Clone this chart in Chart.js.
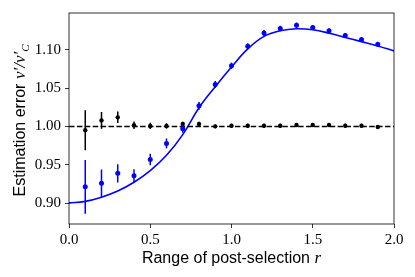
<!DOCTYPE html>
<html><head><meta charset="utf-8">
<script src="https://cdn.jsdelivr.net/npm/chart.js@4"></script>
<style>html,body{margin:0;padding:0;background:#fff}</style>
</head><body>
<canvas id="c" width="415" height="277"></canvas>
<script>
// ---- data ----
const rValues   = [0.1,0.2,0.3,0.4,0.5,0.6,0.7,0.8,0.9,1.0,1.1,1.2,1.3,1.4,1.5,1.6,1.7,1.8,1.9];
const blueMean  = [0.9215,0.926,0.939,0.936,0.957,0.978,0.997,1.027,1.0548,1.0793,1.1046,1.1218,1.1278,1.1320,1.1290,1.1248,1.1188,1.1133,1.1072];
const blueErr   = [0.035,0.018,0.012,0.0085,0.0075,0.0065,0.005,0.005,0.0045,0.004,0.004,0.004,0.0035,0.0035,0.003,0.003,0.003,0.003,0.003];
const blackMean = [0.9952,1.008,1.012,1.0017,1.0008,1.0008,1.0033,1.0033,1.0003,1.001,1.001,1.001,1.001,1.002,1.002,1.002,1.001,1.001,0.9995];
const blackErr  = [0.026,0.011,0.0075,0.005,0.004,0.0035,0.003,0.003,0.0025,0.0025,0.0025,0.0025,0.0025,0.0025,0.0025,0.0025,0.0025,0.0025,0.0025];
const curveR    = [0,0.1,0.2,0.3,0.4,0.5,0.6,0.7,0.8,0.9,1.0,1.1,1.2,1.3,1.4,1.5,1.6,1.7,1.8,1.9,2.0];
const curveV    = [0.9005,0.9025,0.908,0.916,0.9274,0.9425,0.9625,0.9895,1.0245,1.052,1.0776,1.1012,1.1175,1.1248,1.1274,1.1261,1.1218,1.1162,1.1107,1.105,1.0986];
const refR      = [0,2];
const refV      = [1,1];
const xTicks    = [0,0.5,1.0,1.5,2.0];
const yTicks    = [0.90,0.95,1.00,1.05,1.10];
const xLabelParts = ['Range of post-selection ','r'];
const yLabelParts = ['Estimation error ','v\u2032/v\u2032','C'];

const pts = (xs, ys) => xs.map((x,i)=>({x:x,y:ys[i]}));

const errorBars = {
  id:'errorBars',
  beforeDatasetDraw(chart,args){
    const ds = chart.data.datasets[args.index];
    if(!ds.errors) return;
    const ys = chart.scales.y, ctx = chart.ctx;
    ctx.save();
    ctx.strokeStyle = ds.borderColor; ctx.lineWidth = 1.5;
    args.meta.data.forEach((p,i)=>{
      const d = ds.data[i], e = ds.errors[i];
      ctx.beginPath();
      ctx.moveTo(p.x, ys.getPixelForValue(d.y-e));
      ctx.lineTo(p.x, ys.getPixelForValue(d.y+e));
      ctx.stroke();
    });
    ctx.restore();
  }
};

const frameAndTitles = {
  id:'frameAndTitles',
  afterDraw(chart){
    const ctx = chart.ctx, a = chart.chartArea;
    ctx.save();
    ctx.strokeStyle = '#000'; ctx.lineWidth = 0.8;
    ctx.strokeRect(a.left, a.top, a.right-a.left, a.bottom-a.top);
    ctx.fillStyle = '#000';
    ctx.textBaseline = 'alphabetic';
    const sans = '16px "Liberation Sans", sans-serif';
    const ital = 'italic 17px "Liberation Serif", serif';
    ctx.font = sans; const w1 = ctx.measureText(xLabelParts[0]).width;
    ctx.font = ital; const w2 = ctx.measureText(xLabelParts[1]).width;
    let x0 = (a.left+a.right)/2 - (w1+w2)/2;
    ctx.textAlign='left';
    ctx.font = sans; ctx.fillText(xLabelParts[0], x0, 263);
    ctx.font = ital; ctx.fillText(xLabelParts[1], x0+w1, 263);
    ctx.translate(25, (a.top+a.bottom)/2 + 2);
    ctx.rotate(-Math.PI/2);
    const sub = 'italic 11px "Liberation Serif", serif';
    ctx.font = sans; const v1 = ctx.measureText(yLabelParts[0]).width;
    ctx.font = ital; const v2 = ctx.measureText(yLabelParts[1]).width;
    ctx.font = sub; const v3 = ctx.measureText(yLabelParts[2]).width;
    let s = -(v1+v2+v3)/2;
    ctx.font = sans; ctx.fillText(yLabelParts[0], s, 0);
    ctx.font = ital; ctx.fillText(yLabelParts[1], s+v1, 0);
    ctx.font = sub; ctx.fillText(yLabelParts[2], s+v1+v2, 4);
    ctx.restore();
  }
};

const tickFont = {family:'"Liberation Serif", serif', size:15};

new Chart(document.getElementById('c'), {
  data:{
    datasets:[
      {type:'scatter', data:pts(rValues,blueMean), errors:blueErr, borderColor:'#0000ff', backgroundColor:'#0000ff', pointRadius:2.5, pointBorderWidth:0, order:1},
      {type:'scatter', data:pts(rValues,blackMean), errors:blackErr, borderColor:'#000', backgroundColor:'#000', pointRadius:2.2, pointBorderWidth:0, order:2},
      {type:'line', data:pts(refR,refV), borderColor:'#000', borderWidth:1.5, borderDash:[5.5,2.4], pointRadius:0, fill:false, order:3},
      {type:'line', data:pts(curveR,curveV), borderColor:'#0000ff', borderWidth:1.6, pointRadius:0, fill:false, tension:0.4, order:4}
    ]
  },
  options:{
    responsive:false, animation:false, devicePixelRatio:1,
    layout:{padding:{top:10,right:21,left:0,bottom:0}},
    plugins:{legend:{display:false}, tooltip:{enabled:false}},
    scales:{
      x:{type:'linear', min:0, max:2,
        afterBuildTicks:s=>{s.ticks = xTicks.map(v=>({value:v}));},
        afterFit:s=>{s.height = 53;},
        grid:{drawOnChartArea:false, drawTicks:true, tickLength:4, color:'#000', lineWidth:0.8},
        border:{display:false},
        ticks:{font:tickFont, color:'#000', padding:3, maxRotation:0, callback:v=>Number(v).toFixed(1)}
      },
      y:{type:'linear', min:0.873, max:1.148,
        afterBuildTicks:s=>{s.ticks = yTicks.map(v=>({value:v}));},
        afterFit:s=>{s.width = 69;},
        grid:{drawOnChartArea:false, drawTicks:true, tickLength:4, color:'#000', lineWidth:0.8},
        border:{display:false},
        ticks:{font:tickFont, color:'#000', padding:4, callback:v=>Number(v).toFixed(2)}
      }
    }
  },
  plugins:[errorBars, frameAndTitles]
});
</script>
</body></html>
